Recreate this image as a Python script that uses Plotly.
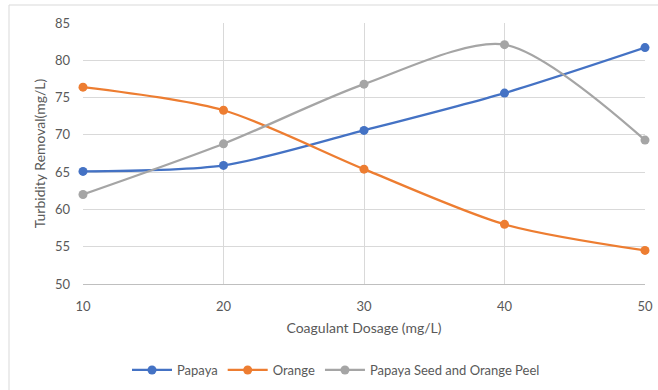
import plotly.graph_objects as go

dosage = [10, 20, 30, 40, 50]
papaya = [65.1, 65.9, 70.6, 75.6, 81.7]
orange = [76.4, 73.3, 65.4, 58.0, 54.5]
seed_peel = [62.0, 68.8, 76.8, 82.1, 69.3]

series = [
    ("Papaya", papaya, "#4472C4"),
    ("Orange", orange, "#ED7D31"),
    ("Papaya Seed and Orange Peel", seed_peel, "#A5A5A5"),
]

FONT = "Lato, 'Open Sans', sans-serif"
GRAY_TXT = "#595959"

fig = go.Figure()
for name, vals, col in series:
    fig.add_trace(go.Scatter(
        x=dosage, y=vals, name=name, mode="lines+markers",
        line=dict(color=col, width=2.25, shape="spline", smoothing=0.8),
        marker=dict(color=col, size=9),
        cliponaxis=False,
    ))

L, R, T, B = 83, 13, 23, 106
W, H = 658, 390
pw = W - L - R
ph = H - T - B

def px_x(p):
    return (p - L) / pw

def px_y(p):
    return (H - B - p) / ph

fig.update_layout(
    width=W, height=H,
    margin=dict(l=L, r=R, t=T, b=B, autoexpand=False),
    paper_bgcolor="white", plot_bgcolor="white",
    font=dict(family=FONT, size=13, color=GRAY_TXT),
    showlegend=True,
    legend=dict(orientation="h", x=px_x(336), xanchor="center",
                y=px_y(370), yanchor="middle",
                font=dict(size=13, color=GRAY_TXT),
                itemwidth=40, tracegroupgap=0),
    xaxis=dict(range=[10, 50], tickvals=dosage, automargin=False,
               showgrid=True, gridcolor="#d9d9d9", gridwidth=1,
               showline=True, linecolor="#bfbfbf", linewidth=1,
               zeroline=False, ticks="", ticklen=0, ticklabelstandoff=10,
               tickfont=dict(size=13, color=GRAY_TXT),
               title=dict(text="Coagulant Dosage (mg/L)", standoff=10,
                          font=dict(size=14, color=GRAY_TXT))),
    yaxis=dict(range=[50, 85], dtick=5, automargin=False,
               showgrid=True, gridcolor="#d9d9d9", gridwidth=1,
               showline=False, zeroline=False, ticks="", ticklabelstandoff=12,
               tickfont=dict(size=13, color=GRAY_TXT),
               title=dict(text="Turbidity Removal(mg/L)", standoff=6,
                          font=dict(size=14, color=GRAY_TXT))),
    shapes=[dict(type="rect", xref="paper", yref="paper",
                 x0=px_x(9), x1=px_x(662), y0=px_y(395), y1=px_y(5),
                 line=dict(color="#d9d9d9", width=1), layer="below")],
)

fig.write_html("out.html")
